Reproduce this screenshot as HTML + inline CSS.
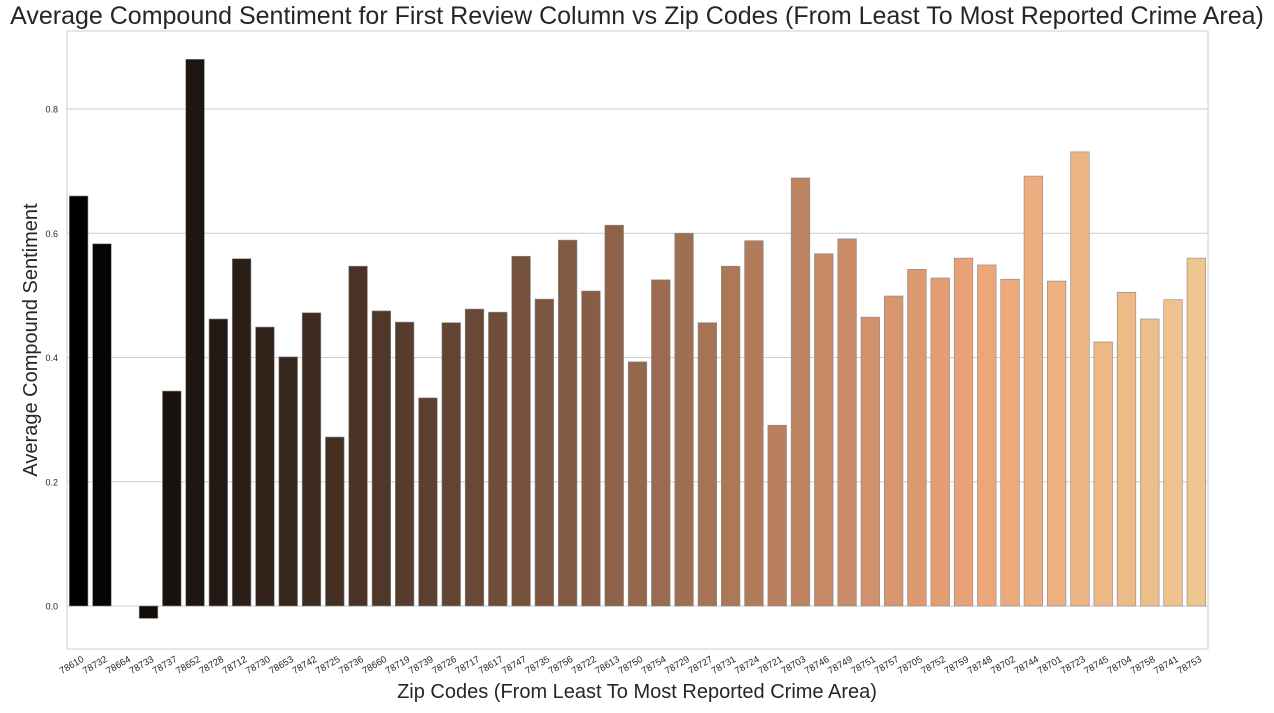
<!DOCTYPE html>
<html><head><meta charset="utf-8"><style>
body{margin:0;background:#fff;font-family:"Liberation Sans",Arial,sans-serif}
svg text{font-family:"Liberation Sans",Arial,sans-serif}
</style></head><body>
<svg id="chart" width="1274" height="708"></svg>
<script>
const zips=["78610","78732","78664","78733","78737","78652","78728","78712","78730","78653","78742","78725","78736","78660","78719","78739","78726","78717","78617","78747","78735","78756","78722","78613","78750","78754","78729","78727","78731","78724","78721","78703","78746","78749","78751","78757","78705","78752","78759","78748","78702","78744","78701","78723","78745","78704","78758","78741","78753"];
const values=[0.660,0.583,0.0,-0.020,0.346,0.880,0.462,0.559,0.449,0.401,0.472,0.272,0.547,0.475,0.457,0.335,0.456,0.478,0.473,0.563,0.494,0.589,0.507,0.613,0.393,0.525,0.600,0.456,0.547,0.588,0.291,0.689,0.567,0.591,0.465,0.499,0.542,0.528,0.560,0.549,0.526,0.692,0.523,0.731,0.425,0.505,0.462,0.493,0.560];
const yTicks=[0.0,0.2,0.4,0.6,0.8];
const NS="http://www.w3.org/2000/svg";
const svg=document.getElementById('chart');
const L=67,R=1208,T=31,B=649;
const y0px=606,perUnit=621.25;
function yScale(v){return y0px-v*perUnit;}
const step=(R-L)/zips.length;
function xCenter(i){return L+step*(i+0.5);}
function mk(tag,attrs){const e=document.createElementNS(NS,tag);for(const k in attrs)e.setAttribute(k,attrs[k]);svg.appendChild(e);return e;}
function rgb2hls(r,g,b){const mx=Math.max(r,g,b),mn=Math.min(r,g,b);const l=(mx+mn)/2;let h=0,s=0;if(mx!==mn){const d=mx-mn;s=l>0.5?d/(2-mx-mn):d/(mx+mn);if(mx===r)h=((g-b)/d+(g<b?6:0));else if(mx===g)h=(b-r)/d+2;else h=(r-g)/d+4;h/=6;}return[h,l,s];}
function hue2rgb(p,q,t){if(t<0)t+=1;if(t>1)t-=1;if(t<1/6)return p+(q-p)*6*t;if(t<1/2)return q;if(t<2/3)return p+(q-p)*(2/3-t)*6;return p;}
function hls2rgb(h,l,s){if(s===0)return[l,l,l];const q=l<0.5?l*(1+s):l+s-l*s,p=2*l-q;return[hue2rgb(p,q,h+1/3),hue2rgb(p,q,h),hue2rgb(p,q,h-1/3)];}
function color(i){const x=i/(zips.length-1);let r=Math.min(1,1.25*x),g=0.7812*x,b=0.4975*x;let [h,l,s]=rgb2hls(r,g,b);s*=0.75;[r,g,b]=hls2rgb(h,l,s);return `rgb(${Math.round(r*255)},${Math.round(g*255)},${Math.round(b*255)})`;}
// grid
yTicks.forEach(t=>{
  const g=mk('line',{x1:L,x2:R,y1:yScale(t),y2:yScale(t),stroke:'#cccccc','stroke-width':1});
  
  
  const tx=mk('text',{x:L-9,y:yScale(t)+3.5,'text-anchor':'end','font-size':9,fill:'#262626'});
  tx.textContent=t.toFixed(1);
  
  
});
const bw=step*0.8;
values.forEach((v,i)=>{
  const y=Math.min(yScale(v),yScale(0)),h=Math.abs(yScale(v)-yScale(0));
  const r=mk('rect',{x:xCenter(i)-bw/2,y:y,width:bw,height:h,fill:color(i),stroke:'#888','stroke-width':0.6});
  
  
  const cx=xCenter(i),cy=B+8;
  const tx=mk('text',{x:cx+6,y:cy+4,'text-anchor':'end','font-size':9.5,fill:'#262626',transform:`rotate(-30 ${cx+6} ${cy+4})`});
  tx.textContent=zips[i];
  
  
});
const fr=mk('rect',{x:L,y:T,width:R-L,height:B-T,fill:'none',stroke:'#cccccc','stroke-width':1});


const title=mk('text',{x:637,y:24,'text-anchor':'middle','font-size':25,fill:'#262626'});
title.textContent='Average Compound Sentiment for First Review Column vs Zip Codes (From Least To Most Reported Crime Area)';


const xl=mk('text',{x:637,y:698,'text-anchor':'middle','font-size':20,fill:'#262626'});
xl.textContent='Zip Codes (From Least To Most Reported Crime Area)';


const yl=mk('text',{x:37,y:340,'text-anchor':'middle','font-size':20,fill:'#262626',transform:'rotate(-90 37 340)'});
yl.textContent='Average Compound Sentiment';


</script>
</body></html>
